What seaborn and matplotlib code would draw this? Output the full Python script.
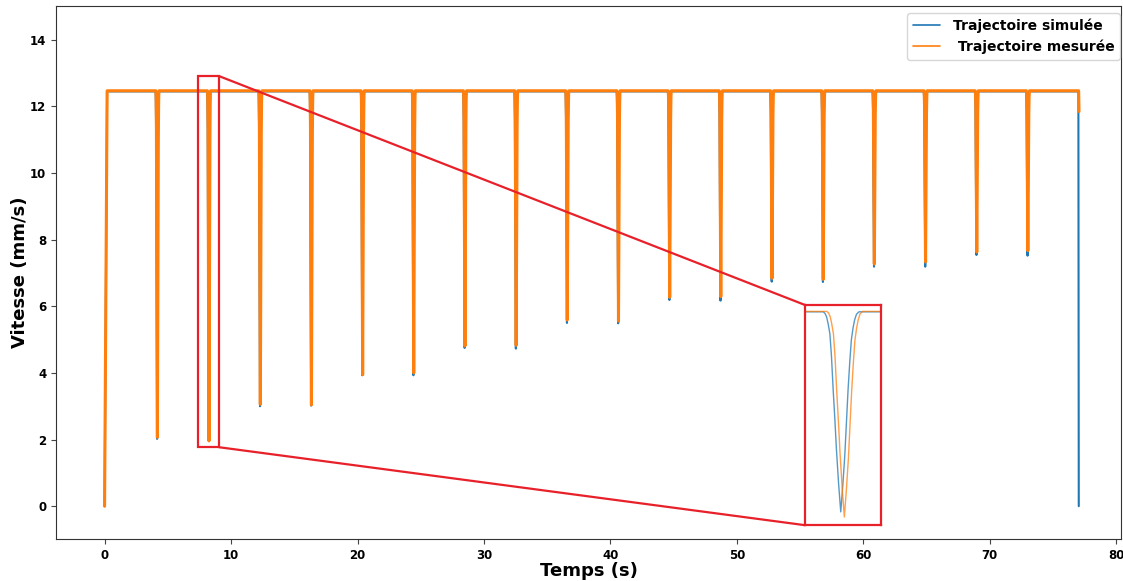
import numpy as np
import pandas as pd
import matplotlib
matplotlib.use("Agg")
import matplotlib.pyplot as plt
import seaborn as sns
from matplotlib.patches import Rectangle

# ---------------- data ----------------
dip_times = [4.15, 8.23, 12.29, 16.33, 20.38, 24.42, 28.47, 32.52, 36.56,
             40.61, 44.66, 48.70, 52.75, 56.80, 60.84, 64.89, 68.94, 72.98]
dip_min_sim = [2.02, 2.22, 3.00, 3.02, 3.93, 3.93, 4.75, 4.73, 5.50,
               5.49, 6.19, 6.17, 6.74, 6.73, 7.19, 7.19, 7.54, 7.52]
dip_min_mes = [2.07, 1.96, 3.06, 3.04, 3.95, 4.00, 4.81, 4.83, 5.59,
               5.56, 6.27, 6.29, 6.84, 6.81, 7.27, 7.33, 7.63, 7.67]
# shape of one dip: time offset (s) / relative depth
dip_offsets = [-0.122, -0.110, -0.099, -0.088, -0.076, -0.065, -0.053, -0.041,
               -0.030, -0.015, 0.0, 0.014, 0.028, 0.040, 0.051, 0.063, 0.074,
               0.086, 0.097, 0.110, 0.127]
dip_depths = [0.0, 0.008, 0.025, 0.06, 0.11, 0.22, 0.39, 0.54,
              0.69, 0.86, 1.0, 0.87, 0.72, 0.55, 0.39, 0.25, 0.14,
              0.08, 0.04, 0.012, 0.0]
mes_lag = 0.025
plateau_sim = 12.45
plateau_mes = 12.47
start_t, ramp_end_t = 0.0, 0.2
end_sim_t, end_sim_v = [77.00, 77.03], [12.45, 0.0]
end_mes_t, end_mes_v = [77.02, 77.05], [12.47, 11.85]

xticks = [0, 10, 20, 30, 40, 50, 60, 70, 80]
yticks = [0, 2, 4, 6, 8, 10, 12, 14]
label_sim = "Trajectoire simulée"
label_mes = " Trajectoire mesurée"


def build(plateau, mins, lag, end_t, end_v):
    t = [start_t, ramp_end_t]
    v = [0.0, plateau]
    for tc, m in zip(dip_times, mins):
        for off, d in zip(dip_offsets, dip_depths):
            t.append(tc + lag + off)
            v.append(plateau - d * (plateau - m))
    t += end_t
    v += end_v
    return t, v


t_sim, v_sim = build(plateau_sim, dip_min_sim, 0.0, end_sim_t, end_sim_v)
t_mes, v_mes = build(plateau_mes, dip_min_mes, mes_lag, end_mes_t, end_mes_v)
df_sim = pd.DataFrame({"t": t_sim, "v": v_sim})
df_mes = pd.DataFrame({"t": t_mes, "v": v_mes})

# ---------------- figure ----------------
sns.set_theme(style="ticks")
plt.rcParams["font.family"] = ["DejaVu Sans"]
plt.rcParams["text.color"] = "black"
plt.rcParams["axes.labelcolor"] = "black"
plt.rcParams["xtick.color"] = "black"
plt.rcParams["ytick.color"] = "black"

fig = plt.figure(figsize=(11.23, 5.81), dpi=100)
ax = fig.add_axes([0.050, 0.072, 0.948, 0.918])

blue = "#1f77b4"
orange = "#ff7f0e"
red = "#e8202a"

sns.lineplot(data=df_sim, x="t", y="v", ax=ax, color=blue, lw=1.5,
             sort=False, estimator=None, label=label_sim)
sns.lineplot(data=df_mes, x="t", y="v", ax=ax, color=orange, lw=2.2,
             sort=False, estimator=None, label=label_mes)

ax.set_xlim(-3.83, 80.35)
ax.set_ylim(-0.99, 15.02)
ax.set_xticks(xticks)
ax.set_yticks(yticks)
for lab in ax.get_xticklabels() + ax.get_yticklabels():
    lab.set_fontweight("bold")
    lab.set_fontsize(8.5)
ax.tick_params(length=3.5, width=0.8, colors="#444444", labelcolor="black")
for sp in ax.spines.values():
    sp.set_linewidth(0.8)
    sp.set_color("#333333")
ax.set_xlabel("Temps (s)", fontsize=13, fontweight="bold", labelpad=0)
ax.set_ylabel("Vitesse (mm/s)", fontsize=13, fontweight="bold", labelpad=1)

leg = ax.legend(loc="upper right", bbox_to_anchor=(0.9995, 0.987),
                prop={"weight": "bold", "size": 10}, frameon=True,
                borderaxespad=0.0, handletextpad=0.9)
for h in leg.get_lines():
    h.set_linewidth(1.2)

# ---------------- zoom inset ----------------
src_x0, src_x1, src_y0, src_y1 = 7.39, 9.05, 1.77, 12.91
ins_x0, ins_x1, ins_y0, ins_y1 = 55.38, 61.38, -0.57, 6.04
ins_xlim = (7.98, 8.51)
ins_ylim = (1.54, 12.80)

ax.add_patch(Rectangle((src_x0, src_y0), src_x1 - src_x0, src_y1 - src_y0,
                       fill=False, ec=red, lw=1.6, zorder=5))
ax.plot([src_x1, ins_x0], [src_y1, ins_y1], color=red, lw=1.6, zorder=5)
ax.plot([src_x1, ins_x0], [src_y0, ins_y0], color=red, lw=1.6, zorder=5)

axins = ax.inset_axes([ins_x0, ins_y0, ins_x1 - ins_x0, ins_y1 - ins_y0],
                      transform=ax.transData)
sns.lineplot(data=df_sim, x="t", y="v", ax=axins, color=blue, lw=1.0,
             sort=False, estimator=None, alpha=0.75, legend=False)
sns.lineplot(data=df_mes, x="t", y="v", ax=axins, color=orange, lw=1.0,
             sort=False, estimator=None, alpha=0.75, legend=False)
axins.set_xlim(*ins_xlim)
axins.set_ylim(*ins_ylim)
axins.set_xticks([])
axins.set_yticks([])
axins.set_xlabel("")
axins.set_ylabel("")
for sp in axins.spines.values():
    sp.set_color(red)
    sp.set_linewidth(1.6)

fig.savefig("out.png", dpi=100)
